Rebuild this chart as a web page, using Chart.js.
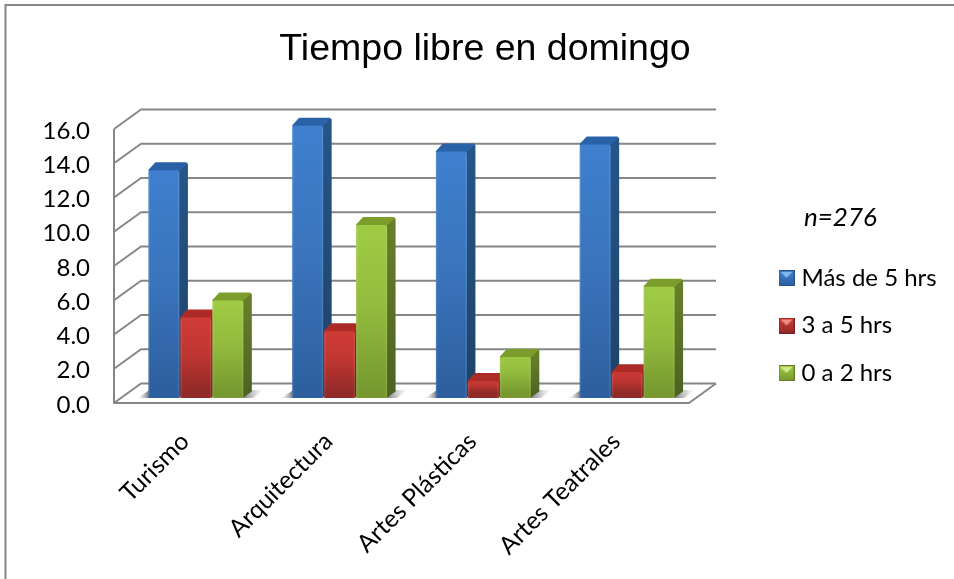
<!DOCTYPE html>
<html>
<head>
<meta charset="utf-8">
<style>html,body{margin:0;padding:0;background:#fff}canvas{display:block}</style>
<script src="https://cdn.jsdelivr.net/npm/chart.js@4"></script>
</head>
<body>
<canvas id="c" width="954" height="579"></canvas>
<script>
const categories = ['Turismo', 'Arquitectura', 'Artes Plásticas', 'Artes Teatrales'];
const masDe5 = [13.3, 15.9, 14.4, 14.8];
const tresA5 = [4.7, 3.9, 1.0, 1.5];
const ceroA2 = [5.7, 10.1, 2.4, 6.5];
const seriesNames = ['Más de 5 hrs', '3 a 5 hrs', '0 a 2 hrs'];
const titleText = 'Tiempo libre en domingo';
const noteText = 'n=276';

const WALL = {dx: 27, dy: -19.5};
const BAR_SHIFT = {dx: 10, dy: -5};
const BAR_DEPTH = {dx: 7.5, dy: -7};
const GRID = '#868686';
const palette = [
  {top: '#3f80cf', mid: '#3a74bc', bot: '#2d5f9e', side1: '#265587', side2: '#1d4268', cap: '#2a62a8', tri: '#7fb4ee'},
  {top: '#d23c37', mid: '#c13632', bot: '#8f2a28', side1: '#7f211e', side2: '#6a1c1a', cap: '#ad2b27', tri: '#ef8d89'},
  {top: '#a0cd45', mid: '#93bb3e', bot: '#76982f', side1: '#667f2a', side2: '#4d6121', cap: '#7c9d2c', tri: '#cfe98a'}
];

function frontFill(i) {
  return function (ctx) {
    const chart = ctx.chart;
    const y = chart.scales.y;
    if (!y || !chart.chartArea || ctx.parsed === undefined) return palette[i].mid;
    const g = chart.ctx.createLinearGradient(0, y.getPixelForValue(ctx.parsed.y) + BAR_SHIFT.dy, 0, y.getPixelForValue(0) + BAR_SHIFT.dy);
    g.addColorStop(0, palette[i].top);
    g.addColorStop(0.5, palette[i].mid);
    g.addColorStop(1, palette[i].bot);
    return g;
  };
}

function swatch(p) {
  const c = document.createElement('canvas');
  c.width = 16; c.height = 16;
  const x = c.getContext('2d');
  const g = x.createLinearGradient(0, 0, 0, 16);
  g.addColorStop(0, p.top); g.addColorStop(1, p.bot);
  x.fillStyle = p.side1; x.fillRect(0, 0, 16, 16);
  x.fillStyle = g; x.fillRect(1, 1, 14, 14);
  x.fillStyle = p.tri;
  x.beginPath(); x.moveTo(2, 2); x.lineTo(14, 2); x.lineTo(8, 8); x.closePath(); x.fill();
  return c;
}
const swatches = palette.map(swatch);

const scene3d = {
  id: 'scene3d',
  afterLayout(chart) {
    const t = chart.titleBlock;
    t.left = 16; t.right = 954;
    const l = chart.legend;
    const w = l.right - l.left, h = l.bottom - l.top;
    l.left = 783.5 - l.options.labels.padding;
    l.right = l.left + w;
    l.top = 266 - l.options.labels.padding;
    l.bottom = l.top + h;
  },
  beforeDraw(chart) {
    const c = chart.ctx;
    c.save();
    c.strokeStyle = GRID; c.lineWidth = 2;
    c.beginPath();
    c.moveTo(5.5, 579); c.lineTo(5.5, 5); c.lineTo(954, 5);
    c.stroke();
    c.restore();
  },
  beforeDatasetsDraw(chart) {
    const c = chart.ctx, y = chart.scales.y, a = chart.chartArea;
    const ticks = y.ticks.map(t => t.value);
    c.save();
    c.strokeStyle = GRID; c.lineWidth = 2; c.lineJoin = 'round';
    ticks.forEach(v => {
      const py = y.getPixelForValue(v);
      c.beginPath();
      c.moveTo(a.left, py);
      c.lineTo(a.left + WALL.dx, py + WALL.dy);
      c.lineTo(a.right + WALL.dx, py + WALL.dy);
      c.stroke();
    });
    c.beginPath();
    c.moveTo(a.left, y.getPixelForValue(16));
    c.lineTo(a.left, y.getPixelForValue(0));
    c.lineTo(a.right, y.getPixelForValue(0));
    c.lineTo(a.right + WALL.dx, y.getPixelForValue(0) + WALL.dy);
    c.stroke();
    c.restore();

    c.save();
    c.translate(BAR_SHIFT.dx, BAR_SHIFT.dy);
    const metas = [0, 1, 2].map(i => chart.getDatasetMeta(i));
    // floor shadows
    categories.forEach((_, k) => {
      const first = metas[0].data[k], last = metas[2].data[k];
      const base = first.base;
      const lx = first.x - first.width / 2, rx = last.x + last.width / 2;
      let g = c.createLinearGradient(rx, 0, rx + 20, 0);
      g.addColorStop(0, 'rgba(100,100,100,0.85)'); g.addColorStop(1, 'rgba(170,170,170,0)');
      c.fillStyle = g;
      c.beginPath();
      c.moveTo(rx - 1, base); c.lineTo(rx + 10, base); c.lineTo(rx + 20, base - 8); c.lineTo(rx + 7, base - 8);
      c.closePath(); c.fill();
      g = c.createLinearGradient(lx - 11, 0, lx, 0);
      g.addColorStop(0, 'rgba(170,170,170,0)'); g.addColorStop(1, 'rgba(100,100,100,0.8)');
      c.fillStyle = g;
      c.beginPath();
      c.moveTo(lx - 11, base); c.lineTo(lx + 1, base); c.lineTo(lx + 1, base - 8);
      c.closePath(); c.fill();
    });
    // side and top faces
    c.lineJoin = 'round';
    metas.forEach((m, i) => {
      const p = palette[i];
      m.data.forEach(b => {
        const r = b.x + b.width / 2, l = b.x - b.width / 2;
        const g = c.createLinearGradient(0, b.y, 0, b.base);
        g.addColorStop(0, p.side1); g.addColorStop(1, p.side2);
        c.fillStyle = g; c.strokeStyle = g; c.lineWidth = 2;
        c.beginPath();
        c.moveTo(r - 1, b.y + 2); c.lineTo(r + BAR_DEPTH.dx, b.y + BAR_DEPTH.dy + 1);
        c.lineTo(r + BAR_DEPTH.dx, b.base + BAR_DEPTH.dy); c.lineTo(r - 1, b.base - 1);
        c.closePath(); c.fill(); c.stroke();
        c.fillStyle = p.cap; c.strokeStyle = p.cap;
        c.beginPath();
        c.moveTo(l + 1, b.y); c.lineTo(l + BAR_DEPTH.dx, b.y + BAR_DEPTH.dy);
        c.lineTo(r + BAR_DEPTH.dx - 1, b.y + BAR_DEPTH.dy); c.lineTo(r - 1, b.y);
        c.closePath(); c.fill(); c.stroke();
      });
    });
  },
  afterDatasetsDraw(chart) {
    const c = chart.ctx;
    // soft bevel highlights along the front-face edges
    [0, 1, 2].forEach(i => chart.getDatasetMeta(i).data.forEach(b => {
      const l = b.x - b.width / 2, r = b.x + b.width / 2;
      c.fillStyle = 'rgba(255,255,255,0.10)';
      c.fillRect(l, b.y + 2, 1.5, b.base - b.y - 2);
      c.fillRect(r - 1.5, b.y + 2, 1.5, b.base - b.y - 2);
    }));
    c.restore();
    c.save();
    c.fillStyle = '#000';
    c.font = 'italic 26px Lato';
    c.textBaseline = 'alphabetic';
    c.fillText(noteText, 804, 226);
    c.restore();
  }
};

new Chart(document.getElementById('c'), {
  type: 'bar',
  data: {
    labels: categories,
    datasets: [
      {label: seriesNames[0], data: masDe5, backgroundColor: frontFill(0)},
      {label: seriesNames[1], data: tresA5, backgroundColor: frontFill(1)},
      {label: seriesNames[2], data: ceroA2, backgroundColor: frontFill(2)}
    ]
  },
  plugins: [scene3d],
  options: {
    responsive: false,
    animation: false,
    devicePixelRatio: 1,
    layout: {padding: {left: 0, right: 265, top: 27, bottom: 0}},
    datasets: {bar: {categoryPercentage: 0.667, barPercentage: 0.97, borderWidth: 0, borderRadius: {topLeft: 2, topRight: 2, bottomLeft: 0, bottomRight: 0}, borderSkipped: false}},
    plugins: {
      tooltip: {enabled: false},
      title: {
        display: true,
        text: titleText,
        color: '#000',
        font: {family: 'Liberation Sans', size: 37.5, weight: 'normal'},
        padding: {top: 0, bottom: 57}
      },
      legend: {
        display: true,
        position: 'chartArea',
        align: 'start',
        labels: {
          color: '#000',
          font: {family: 'Lato', size: 24},
          boxWidth: 6,
          padding: 23.5,
          usePointStyle: true,
          generateLabels: () => seriesNames.map((t, i) => ({text: t, pointStyle: swatches[i], datasetIndex: i, fontColor: '#000', lineWidth: 0, strokeStyle: 'transparent', fillStyle: 'transparent'}))
        }
      }
    },
    scales: {
      x: {
        grid: {display: false},
        border: {display: false},
        afterFit(s) { s.height = 176; },
        ticks: {
          color: '#000',
          font: {family: 'Lato', size: 24.5},
          minRotation: 45, maxRotation: 45,
          autoSkip: false,
          padding: 16,
          labelOffset: -1
        }
      },
      y: {
        min: 0, max: 16,
        grid: {display: false},
        border: {display: false},
        afterFit(s) { s.width = 114; },
        ticks: {
          stepSize: 2,
          color: '#000',
          font: {family: 'Lato', size: 24},
          padding: 16,
          labelOffset: 2,
          callback: v => Number(v).toFixed(1)
        }
      }
    }
  }
});
</script>
</body>
</html>
